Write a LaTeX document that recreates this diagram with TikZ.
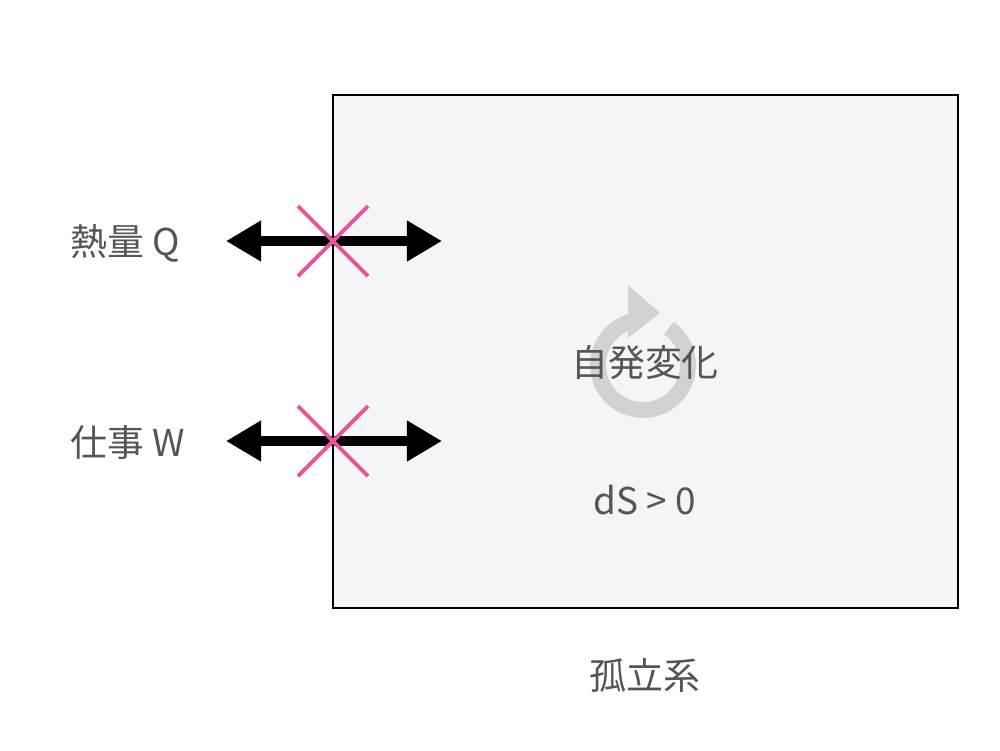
\documentclass[tikz,border=0pt]{standalone}
\usepackage{fontspec}
\setmainfont{Noto Sans CJK JP}
\usetikzlibrary{arrows.meta,calc}
\definecolor{txt}{HTML}{555555}
\definecolor{pinkx}{HTML}{E2579E}
\definecolor{ring}{HTML}{D2D2D2}
\begin{document}
\begin{tikzpicture}[x=0.01cm,y=-0.01cm,
  lbl/.style={text=txt,font=\fontsize{10.5pt}{12pt}\selectfont,inner sep=0},
  dbl/.style={line width=3pt,{Triangle[length=10pt,width=11pt]}-{Triangle[length=10pt,width=11pt]}},
  cross/.style={pinkx,line width=1.1pt}]
\useasboundingbox (0,0) rectangle (1000,750);
\node[draw=black,fill=black!4,line width=0.5pt,inner sep=0,anchor=north west,minimum width=6.25cm,minimum height=5.13cm] (sys) at (332,94) {};
% ring
\draw[ring,line width=4.5pt] (643,365) ++(-55:45) arc[start angle=-55,end angle=255,radius=45];
\fill[ring] (628,285) -- (660,313) -- (628,338) -- cycle;
\node[lbl] (sp) at (645,362) {自発変化};
\node[lbl] (ds) at (645,500) {dS > 0};
\node[lbl] (iso) at (645,675) {孤立系};
\coordinate (q1) at (226,241); \coordinate (q2) at (442,241);
\coordinate (w1) at (226,441); \coordinate (w2) at (442,441);
\draw[dbl] (q1) -- (q2);
\draw[dbl] (w1) -- (w2);
\coordinate (c1) at (333,241); \coordinate (c2) at (333,441);
\draw[cross] ($(c1)+(-35,-35)$) -- ($(c1)+(35,35)$) ($(c1)+(35,-35)$) -- ($(c1)+(-35,35)$);
\draw[cross] ($(c2)+(-35,-35)$) -- ($(c2)+(35,35)$) ($(c2)+(35,-35)$) -- ($(c2)+(-35,35)$);
\node[lbl,anchor=west] (q) at (70,243) {熱量 Q};
\node[lbl,anchor=west] (w) at (70,443) {仕事 W};
\end{tikzpicture}
\end{document}
